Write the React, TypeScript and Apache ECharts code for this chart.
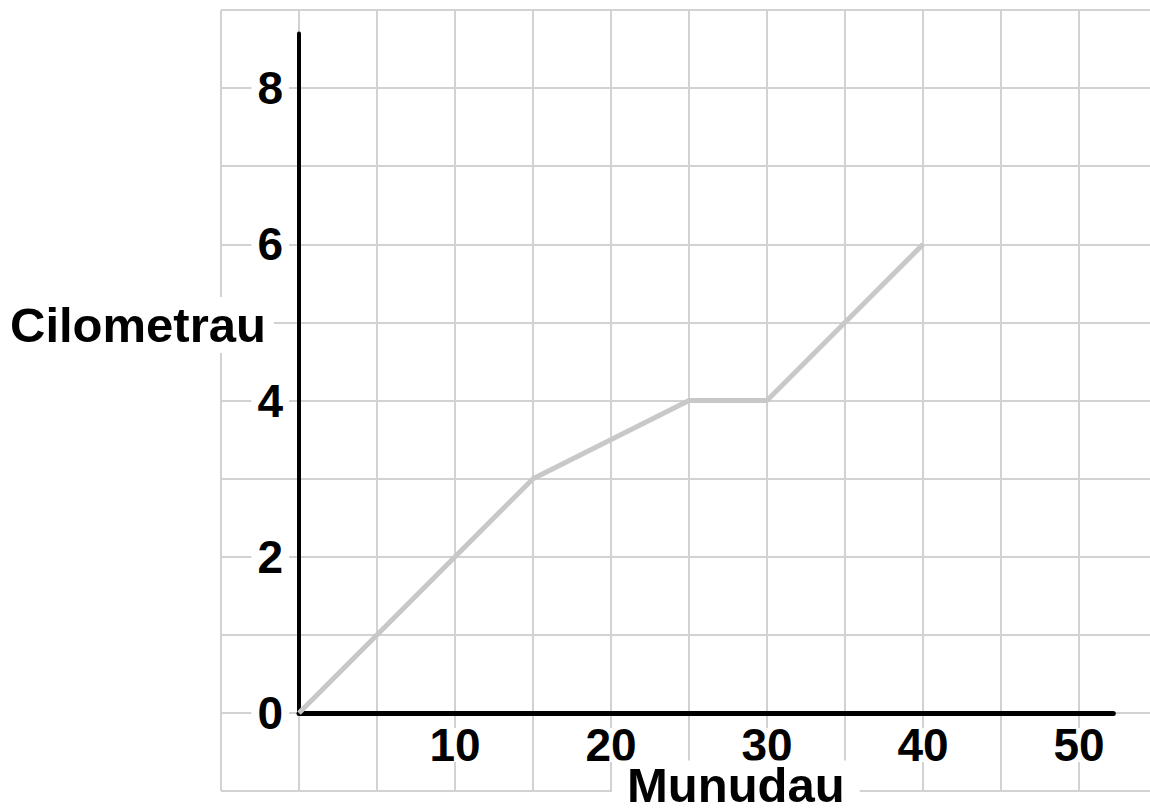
import React, { useEffect, useRef } from "react";
import * as echarts from "echarts";

const minutes = [0, 15, 25, 30, 40];
const kilometres = [0, 3, 4, 4, 6];
const xTitle = "Munudau";
const yTitle = "Cilometrau";

const FONT = "'Liberation Sans', Arial, sans-serif";

export default function App() {
  const ref = useRef<HTMLDivElement>(null);
  useEffect(() => {
    if (!ref.current) return;
    const chart = echarts.init(ref.current, null, { renderer: "svg" });
    const labelStyle = {
      color: "#000",
      fontSize: 46,
      fontWeight: "bold" as const,
      fontFamily: FONT,
      backgroundColor: "#fff",
      padding: [0, 6],
      lineHeight: 34,
    };
    chart.setOption({
      animation: false,
      backgroundColor: "#fff",
      title: [
        {
          text: yTitle,
          left: 2,
          top: 297,
          padding: [0, 8],
          backgroundColor: "#fff",
          textStyle: { fontSize: 49, fontWeight: "bold", fontFamily: FONT, color: "#000", lineHeight: 56 },
        },
        {
          text: xTitle,
          left: 612,
          top: 766,
          padding: [0, 15],
          backgroundColor: "#fff",
          textStyle: { fontSize: 49, fontWeight: "bold", fontFamily: FONT, color: "#000", lineHeight: 38 },
        },
      ],
      grid: [
        { left: 221, top: 10, width: 936, height: 781, containLabel: false },
        { left: 299, top: 33.5, width: 814.3, height: 679.5, containLabel: false },
      ],
      xAxis: [
        {
          type: "value",
          gridIndex: 0,
          min: -5,
          max: 55,
          interval: 5,
          axisLine: { show: false },
          axisTick: { show: false },
          axisLabel: { show: false },
          splitLine: { show: true, lineStyle: { color: "#d2d2d2", width: 2 } },
        },
        {
          type: "value",
          gridIndex: 1,
          min: 0,
          max: 52.2,
          interval: 10,
          axisLine: { show: true, onZero: false, lineStyle: { color: "#000", width: 5 } },
          axisTick: { show: false },
          splitLine: { show: false },
          axisLabel: { ...labelStyle, margin: 15, showMinLabel: false, showMaxLabel: false },
        },
      ],
      yAxis: [
        {
          type: "value",
          gridIndex: 0,
          min: -1,
          max: 9,
          interval: 1,
          axisLine: { show: false },
          axisTick: { show: false },
          axisLabel: { show: false },
          splitLine: { show: true, lineStyle: { color: "#d2d2d2", width: 2 } },
        },
        {
          type: "value",
          gridIndex: 1,
          min: 0,
          max: 8.7,
          interval: 2,
          axisLine: { show: true, onZero: false, lineStyle: { color: "#000", width: 4 } },
          axisTick: { show: false },
          splitLine: { show: false },
          axisLabel: { ...labelStyle, margin: 10, showMaxLabel: false },
        },
      ],
      series: [
        {
          type: "line",
          xAxisIndex: 1,
          yAxisIndex: 1,
          data: minutes.map((m, i) => [m, kilometres[i]]),
          showSymbol: false,
          symbol: "none",
          lineStyle: { color: "#c8c8c8", width: 5 },
          z: 5,
        },
      ],
    });
    return () => chart.dispose();
  }, []);
  return (
    <div style={{ position: "absolute", left: 0, top: 0, width: 1150, height: 810, overflow: "hidden" }}>
      <div ref={ref} style={{ width: 1180, height: 810 }} />
    </div>
  );
}
